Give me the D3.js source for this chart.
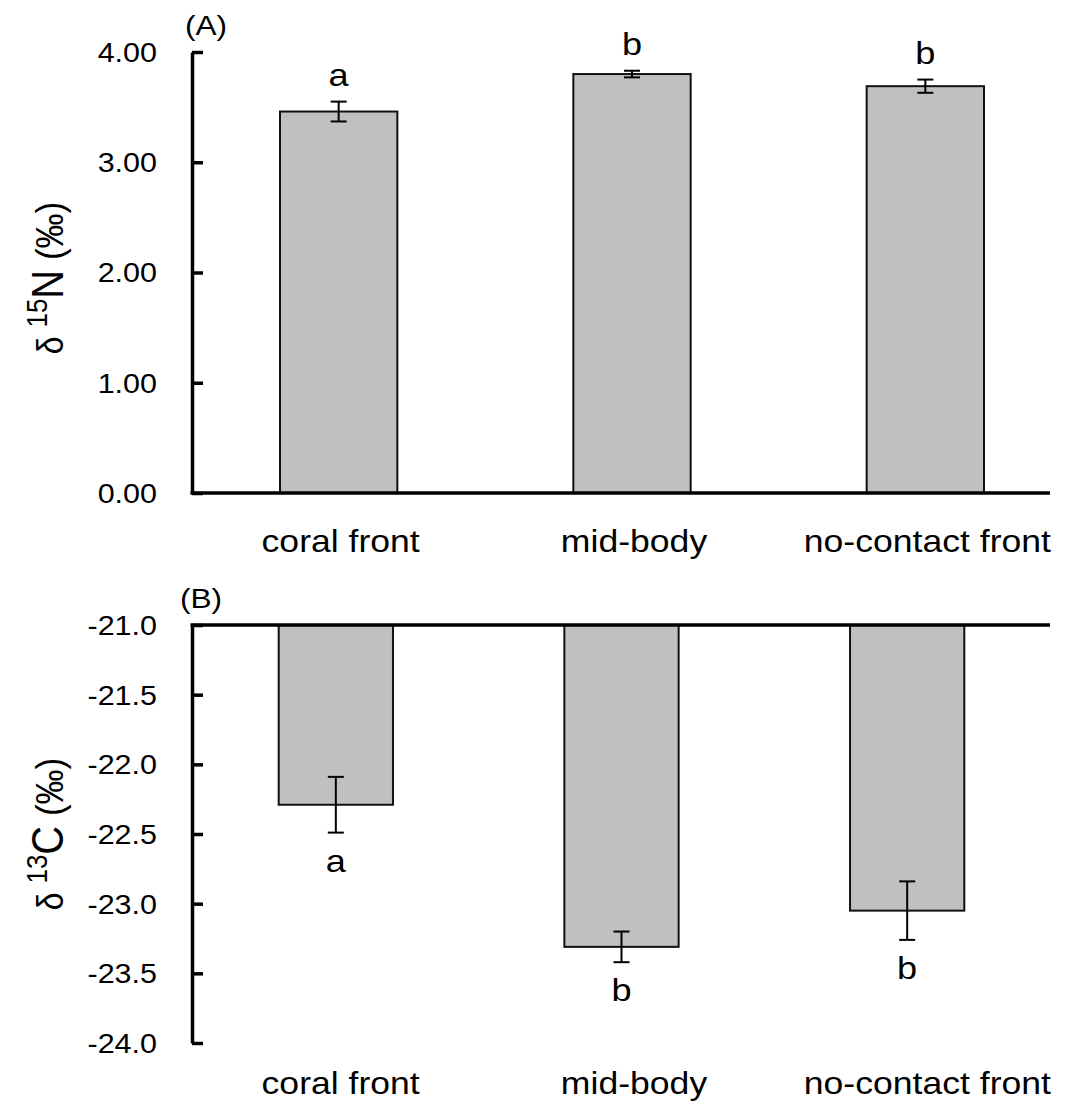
<!DOCTYPE html>
<html>
<head>
<meta charset="utf-8">
<script src="https://cdn.jsdelivr.net/npm/d3@7"></script>
<style>
  body { margin: 0; background: #fff; }
  svg { display: block; }
  text { font-family: "Liberation Sans", Arial, sans-serif; fill: #000; }
</style>
</head>
<body>
<script>
// data
const categories = ["coral front", "mid-body", "no-contact front"];
const n15Mean = [3.46, 3.80, 3.69];
const n15Err = [0.09, 0.03, 0.06];
const n15Letters = ["a", "b", "b"];
const c13Mean = [-22.29, -23.31, -23.05];
const c13Err = [0.20, 0.11, 0.21];
const c13Letters = ["a", "b", "b"];
const n15Ticks = [0, 1, 2, 3, 4];
const c13Ticks = [-21, -21.5, -22, -22.5, -23, -23.5, -24];

const width = 1083, height = 1105;
const SX = 1.13; // text in the original is a bit wider than Arial
const axisLeftX = 192, axisRightX = 1050;

const svg = d3.select("body").append("svg")
    .attr("width", width)
    .attr("height", height);

// text helper: stretched horizontally around its anchor
function label(g, x, y, str, size, anchor) {
    return g.append("text")
        .attr("transform", `translate(${x},${y}) scale(${SX},1)`)
        .attr("text-anchor", anchor || "middle")
        .style("font-size", size + "px")
        .text(str);
}

function yTitle(g, x, y, iso, elem) {
    const t = g.append("text")
        .attr("transform", `translate(${x},${y}) scale(${SX},1) rotate(-90)`)
        .attr("text-anchor", "middle");
    t.append("tspan").style("font-size", "32px").text("\u03b4 ");
    t.append("tspan").style("font-size", "26px").attr("dy", -14).text(iso);
    t.append("tspan").style("font-size", "40px").attr("dy", 14).text(elem);
    t.append("tspan").style("font-size", "35px").text(" (\u2030)");
}

function drawPanel(opt) {
    const g = svg.append("g");
    const x = d3.scaleBand().domain(categories)
        .range(opt.xRange).paddingInner(0.6).paddingOuter(0.3);

    // bars
    g.selectAll("rect.bar")
        .data(categories)
        .join("rect")
        .attr("class", "bar")
        .attr("x", d => x(d))
        .attr("width", x.bandwidth())
        .attr("y", (d, i) => Math.min(opt.y(opt.base), opt.y(opt.mean[i])))
        .attr("height", (d, i) => Math.abs(opt.y(opt.mean[i]) - opt.y(opt.base)))
        .attr("fill", "#c0c0c0")
        .attr("stroke", "#111")
        .attr("stroke-width", 2);

    // error bars
    const eb = g.selectAll("g.err")
        .data(categories)
        .join("g")
        .attr("class", "err")
        .attr("stroke", "#000")
        .attr("stroke-width", 2);
    eb.append("line")
        .attr("x1", d => x(d) + x.bandwidth() / 2)
        .attr("x2", d => x(d) + x.bandwidth() / 2)
        .attr("y1", (d, i) => opt.y(opt.mean[i] - opt.err[i]))
        .attr("y2", (d, i) => opt.y(opt.mean[i] + opt.err[i]));
    [-1, 1].forEach(s => {
        eb.append("line")
            .attr("x1", d => x(d) + x.bandwidth() / 2 - 8)
            .attr("x2", d => x(d) + x.bandwidth() / 2 + 8)
            .attr("y1", (d, i) => opt.y(opt.mean[i] + s * opt.err[i]))
            .attr("y2", (d, i) => opt.y(opt.mean[i] + s * opt.err[i]));
    });

    // significance letters
    categories.forEach((c, i) => {
        const yy = opt.letterY(i);
        label(g, x(c) + x.bandwidth() / 2, yy, opt.letters[i], 32);
    });

    // y axis
    const ax = g.append("g")
        .attr("transform", `translate(${axisLeftX},0)`)
        .call(d3.axisLeft(opt.y)
            .tickValues(opt.ticks)
            .tickSize(-11)
            .tickSizeOuter(0)
            .tickPadding(35)
            .tickFormat(opt.fmt));
    ax.select(".domain").attr("stroke", "#000").attr("stroke-width", 3.5);
    ax.selectAll(".tick line").attr("stroke", "#000").attr("stroke-width", 3.5);
    ax.selectAll(".tick text")
        .attr("x", 0)
        .attr("dy", "0.35em")
        .attr("transform", `translate(-35,0) scale(${SX},1)`)
        .style("font-size", "27px")
        .style("font-family", "'Liberation Sans', Arial, sans-serif")
        .attr("fill", "#000");

    // baseline
    g.append("line")
        .attr("x1", axisLeftX - 1.5).attr("x2", axisRightX)
        .attr("y1", opt.y(opt.base)).attr("y2", opt.y(opt.base))
        .attr("stroke", "#000").attr("stroke-width", 3.5);

    // category labels (same spot in both panels)
    const xl = d3.scaleBand().domain(categories)
        .range([192, 1072]).paddingInner(0.6).paddingOuter(0.3);
    categories.forEach(c => {
        label(g, xl(c) + xl.bandwidth() / 2 + 2, opt.catY, c, 31.5);
    });

    label(g, opt.tagX, opt.tagY, opt.tag, 28, "start");
    yTitle(g, 63, opt.titleY, opt.iso, opt.elem);
}

// panel A
const yA = d3.scaleLinear().domain([0, 4]).range([493, 52]);
drawPanel({
    y: yA, base: 0, mean: n15Mean, err: n15Err, letters: n15Letters,
    xRange: [192, 1072], ticks: n15Ticks, fmt: d => d.toFixed(2),
    letterY: i => yA(n15Mean[i] + n15Err[i]) - 16,
    catY: 552, tag: "(A)", tagX: 185, tagY: 35,
    titleY: 278, iso: "15", elem: "N"
});

// panel B
const yB = d3.scaleLinear().domain([-21, -24]).range([625, 1043]);
drawPanel({
    y: yB, base: -21, mean: c13Mean, err: c13Err, letters: c13Letters,
    xRange: [193, 1050], ticks: c13Ticks, fmt: d => d.toFixed(1),
    letterY: i => yB(c13Mean[i] - c13Err[i]) + 39,
    catY: 1094, tag: "(B)", tagX: 180, tagY: 608,
    titleY: 834, iso: "13", elem: "C"
});
</script>
</body>
</html>
